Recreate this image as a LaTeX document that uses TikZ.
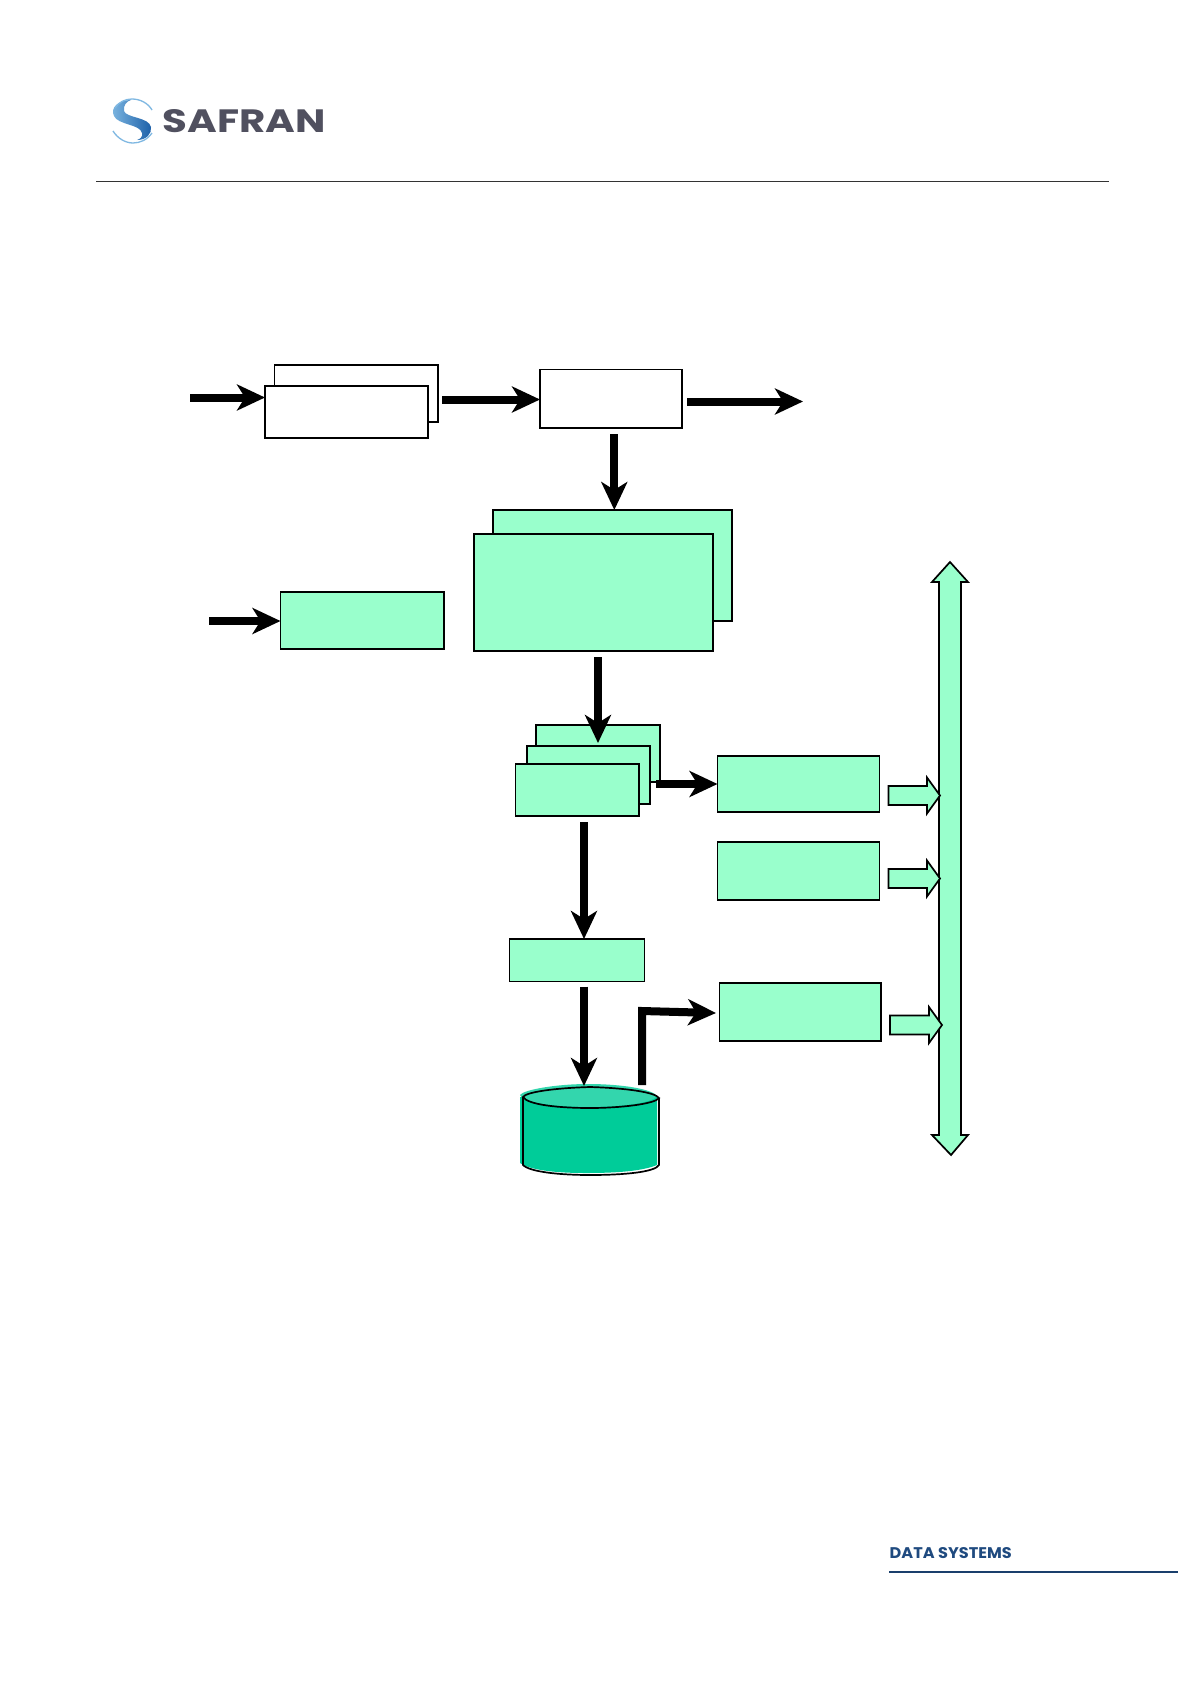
\documentclass[tikz,border=0pt]{standalone}
\usepackage{fontspec}
\setmainfont{Poppins}
\usetikzlibrary{arrows.meta,calc}
\definecolor{mint}{HTML}{99FFCC}
\definecolor{sea}{HTML}{00CC99}
\definecolor{seatop}{HTML}{33D6AD}
\definecolor{safgrey}{HTML}{50505F}
\definecolor{safblue}{HTML}{1F4A7F}
\definecolor{slight}{HTML}{7FB8E2}
\definecolor{sdark}{HTML}{1B5FA8}
\tikzset{
  x=1pt,y=-1pt,
  whitebox/.style={draw=black,line width=1.7pt,fill=white,minimum width=0pt,inner sep=0pt,outer sep=0pt},
  mintbox/.style={whitebox,fill=mint},
  bigarrow/.style={draw=black,line width=8pt,-{Stealth[length=28pt,width=26pt,inset=8pt]},line join=miter},
  blockarrow/.style={draw=black,line width=1.7pt,fill=mint,line join=miter},
}
\newcommand{\boxat}[6]{\node[#1,anchor=north west,minimum width=#5pt-#3pt,minimum height=#6pt-#4pt] (#2) at (#3,#4) {};}
\begin{document}
\begin{tikzpicture}
\useasboundingbox (0,0) rectangle (1191,1684);
\fill[white] (0,0) rectangle (1191,1684);
% header
\coordinate (hl) at (96,181.5); \coordinate (hr) at (1109,181.5);
\draw[line width=1pt,draw=black!80] (hl) -- (hr);
\shade[left color=slight,right color=sdark]
  (131,100) .. controls (118,100) and (110,108) .. (114,116)
  .. controls (118,125) and (140,124) .. (142,133) .. controls (143,137) and (140,139) .. (137,140)
  .. controls (146,140) and (152,134) .. (151,127) .. controls (149,117) and (126,118) .. (124,111)
  .. controls (123,105) and (127,101) .. (131,100) -- cycle;
\draw[line width=1.3pt,draw=slight] (115,108) .. controls (119,102) and (125,99) .. (132,99) .. controls (140,99) and (148,103) .. (152,110);
\draw[line width=1.3pt,draw=slight] (113,131) .. controls (118,139) and (126,143) .. (133,143) .. controls (140,143) and (147,140) .. (152,133);
\node[anchor=west,inner sep=0pt,text=safgrey] (logo) at (162.5,121) {\resizebox{163pt}{23pt}{\bfseries SAFRAN}};
% footer
\node[anchor=west,inner sep=0pt,text=safblue] (foot) at (889.5,1553.5) {\resizebox{122pt}{11pt}{\bfseries DATA SYSTEMS}};
\coordinate (fl) at (889,1572); \coordinate (fr) at (1178,1572);
\draw[line width=1.1pt,draw=safblue!85!black] (fl) -- (fr);
% white boxes
\boxat{whitebox}{wback}{274.5}{365}{438}{422}
\boxat{whitebox}{wfront}{265}{386}{428}{438}
\boxat{whitebox}{ctrl}{540}{369.5}{682}{428}
% big green
\boxat{mintbox}{bigback}{493}{510}{732}{621}
\boxat{mintbox}{bigfront}{474}{534}{713}{651}
\boxat{mintbox}{left}{280.5}{592}{444}{649}
% stack
\boxat{mintbox}{sa}{536}{725}{660}{782}
\boxat{mintbox}{sb}{527}{746}{650}{804}
\boxat{mintbox}{sc}{515.5}{764}{639}{816}
% right
\boxat{mintbox}{ra}{717.5}{756}{879.5}{812}
\boxat{mintbox}{rb}{717.5}{842}{879.5}{900}
\boxat{mintbox}{rc}{719.5}{983}{881}{1041}
\boxat{mintbox}{mid}{509.5}{939}{644.5}{981.5}
% cylinder
\fill[sea] (520,1097) -- (657,1097) -- (657,1165) .. controls (640,1172) and (610,1173) .. (585,1173) .. controls (555,1173) and (530,1170) .. (520,1163) -- cycle;
\fill[seatop] (520,1095) .. controls (523,1090) and (555,1084) .. (588,1084) .. controls (622,1084) and (652,1089) .. (657,1096) .. controls (653,1103) and (620,1107) .. (590,1107) .. controls (560,1107) and (525,1104) .. (520,1095) -- cycle;
\draw[line width=1.7pt] (523,1097) .. controls (526,1092) and (555,1088) .. (590,1087) .. controls (625,1088) and (655,1092) .. (659,1098) .. controls (655,1104) and (620,1108) .. (590,1108) .. controls (560,1108) and (528,1105) .. (523,1097) -- cycle;
\draw[line width=1.7pt] (523,1097) -- (523,1165) .. controls (530,1172) and (560,1175) .. (590,1175) .. controls (625,1175) and (655,1172) .. (659,1165) -- (659,1098);
% free ends
\coordinate (inA) at (190,397.5);
\coordinate (inB) at (209,621);
\coordinate (outA) at (803,401.5);
\coordinate (cylin) at (584,1086);
\coordinate (cylout) at (642,1085);
\coordinate (bendA) at (642,1011);
\coordinate (bendB) at (716,1013);
\coordinate (t2) at (0,399.5);
\coordinate (t4) at ($(bigback.north)+(1.8,0)$);
\coordinate (t6) at (598,743);
\coordinate (t7) at (0,784);
\coordinate (t8) at (584,0);
% connectors
\draw[bigarrow] (inA) -- (wfront.west |- inA);
\draw[bigarrow,shorten <=4pt] (wback.east |- t2) -- (ctrl.west |- t2);
\draw[bigarrow,shorten <=5pt] (ctrl.east |- outA) -- (outA);
\draw[bigarrow,shorten <=6pt] (t4 |- ctrl.south) -- (t4);
\draw[bigarrow] (inB) -- (left.west |- inB);
\draw[bigarrow,shorten <=6pt] (t6 |- bigfront.south) -- (t6);
\draw[bigarrow,shorten <=-4pt] (sa.east |- t7) -- (ra.west |- t7);
\draw[bigarrow,shorten <=6pt] (t8 |- sc.south) -- (t8 |- mid.north);
\draw[bigarrow,shorten <=5pt] (t8 |- mid.south) -- (cylin);
\draw[bigarrow] (cylout) -- (bendA) -- (bendB);
% block arrows
\draw[blockarrow] (950,562) -- (968,582) -- (961,582) -- (961,1135) -- (968,1135) -- (951,1155) -- (932,1135) -- (939,1135) -- (939,582) -- (932,582) -- cycle;
\foreach \xs/\xe/\yc in {888.5/940/795.5,888.5/940/878.5,890/942/1025}{
\draw[blockarrow] (\xs,\yc-9.5) -- (\xe-13,\yc-9.5) -- (\xe-13,\yc-18) -- (\xe,\yc) -- (\xe-13,\yc+18) -- (\xe-13,\yc+9.5) -- (\xs,\yc+9.5) -- cycle;
}
\end{tikzpicture}
\end{document}
